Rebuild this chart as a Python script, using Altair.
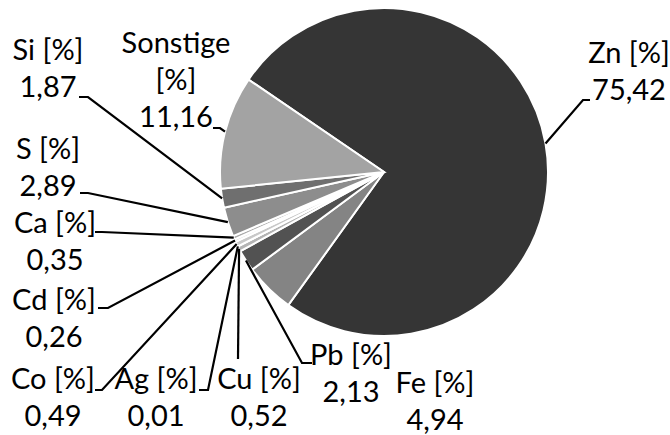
import math
import altair as alt
import pandas as pd

# Composition of the residue, clockwise from Zn
names = ["Zn [%]", "Fe [%]", "Pb [%]", "Cu [%]", "Ag [%]", "Co [%]",
         "Cd [%]", "Ca [%]", "S [%]", "Si [%]", "Sonstige [%]"]
values = [75.42, 4.94, 2.13, 0.52, 0.01, 0.49, 0.26, 0.35, 2.89, 1.87, 11.16]
shades = ["#353535", "#848484", "#525252", "#b4b4b4", "#dedede", "#c8c8c8",
          "#e2e2e2", "#ababab", "#8d8d8d", "#6f6f6f", "#a3a3a3"]

# Layout of the pie
CX, CY, R = 384, 172, 164
START_DEG = 304.3
FONT = "Lato"
FONT_SIZE = 29
LINE_H = 37

# Label anchor (center x, first baseline y)
label_pos = {
    "Zn [%]": (629, 63),
    "Fe [%]": (435, 393),
    "Pb [%]": (351, 365),
    "Cu [%]": (259, 389),
    "Ag [%]": (156, 389),
    "Co [%]": (53, 389),
    "Cd [%]": (54, 310),
    "Ca [%]": (55, 233),
    "S [%]": (48, 159),
    "Si [%]": (48, 60),
    "Sonstige [%]": (176, 53),
}
# Leader line points next to the label (the slice end is computed)
leader_elbows = {
    "Zn [%]": [(590, 100), (583, 100)],
    "Sonstige [%]": [(213, 128), (220, 128)],
    "Si [%]": [(79, 97), (88, 97)],
    "S [%]": [(80, 193), (88, 193)],
    "Ca [%]": [(95, 232), (102, 232)],
    "Cd [%]": [(98, 308), (108, 308)],
    "Co [%]": [(95, 390), (102, 390)],
    "Ag [%]": [(199, 390), (208, 390)],
    "Cu [%]": [(238, 359)],
    "Pb [%]": [(312, 363), (302, 363)],
}
wrap_names = {"Sonstige [%]"}


def fmt(v):
    return f"{v:.2f}".replace(".", ",")


slices = pd.DataFrame({"name": names, "value": values, "idx": range(len(names))})

total = sum(values)
mid_angle = {}
cum = 0.0
for n, v in zip(names, values):
    mid_angle[n] = math.radians(START_DEG + 360.0 * (cum + v / 2) / total)
    cum += v

label_rows = []
for n, v in zip(names, values):
    head = n.replace(" ", "\n") if n in wrap_names else n
    lx, ly = label_pos[n]
    label_rows.append({"name": n, "txt": head + "\n" + fmt(v), "lx": lx, "ly": ly})
labels = pd.DataFrame(label_rows)

leader_rows = []
for n, pts in leader_elbows.items():
    a = mid_angle[n]
    edge = (CX + R * math.sin(a), CY - R * math.cos(a))
    for k, (px, py) in enumerate(pts + [edge]):
        leader_rows.append({"name": n, "k": k, "px": px, "py": py})
leaders = pd.DataFrame(leader_rows)

start = math.radians(START_DEG)
pie = alt.Chart(slices).mark_arc(radius=R, stroke="white", strokeWidth=2).encode(
    theta=alt.Theta("value:Q", stack=True,
                    scale=alt.Scale(range=[start, start + 2 * math.pi])),
    order=alt.Order("idx:Q"),
    color=alt.Color("name:N", scale=alt.Scale(domain=names, range=shades), legend=None),
    x=alt.value(CX),
    y=alt.value(CY),
)

lines = alt.Chart(leaders).mark_line(color="black", strokeWidth=2.2).encode(
    x=alt.X("px:Q", scale=None, axis=None),
    y=alt.Y("py:Q", scale=None, axis=None),
    detail="name:N",
    order="k:Q",
)

text = alt.Chart(labels).mark_text(
    font=FONT, fontSize=FONT_SIZE, lineHeight=LINE_H, lineBreak="\n",
    align="center", baseline="alphabetic", color="black",
).encode(
    x=alt.X("lx:Q", scale=None, axis=None),
    y=alt.Y("ly:Q", scale=None, axis=None),
    text="txt:N",
)

chart = alt.layer(pie, lines, text).properties(
    width=670, height=435, padding=0, autosize="none", background="white"
).configure_view(stroke=None)

chart.save("out.html", embed_options={"renderer": "svg", "actions": False})
